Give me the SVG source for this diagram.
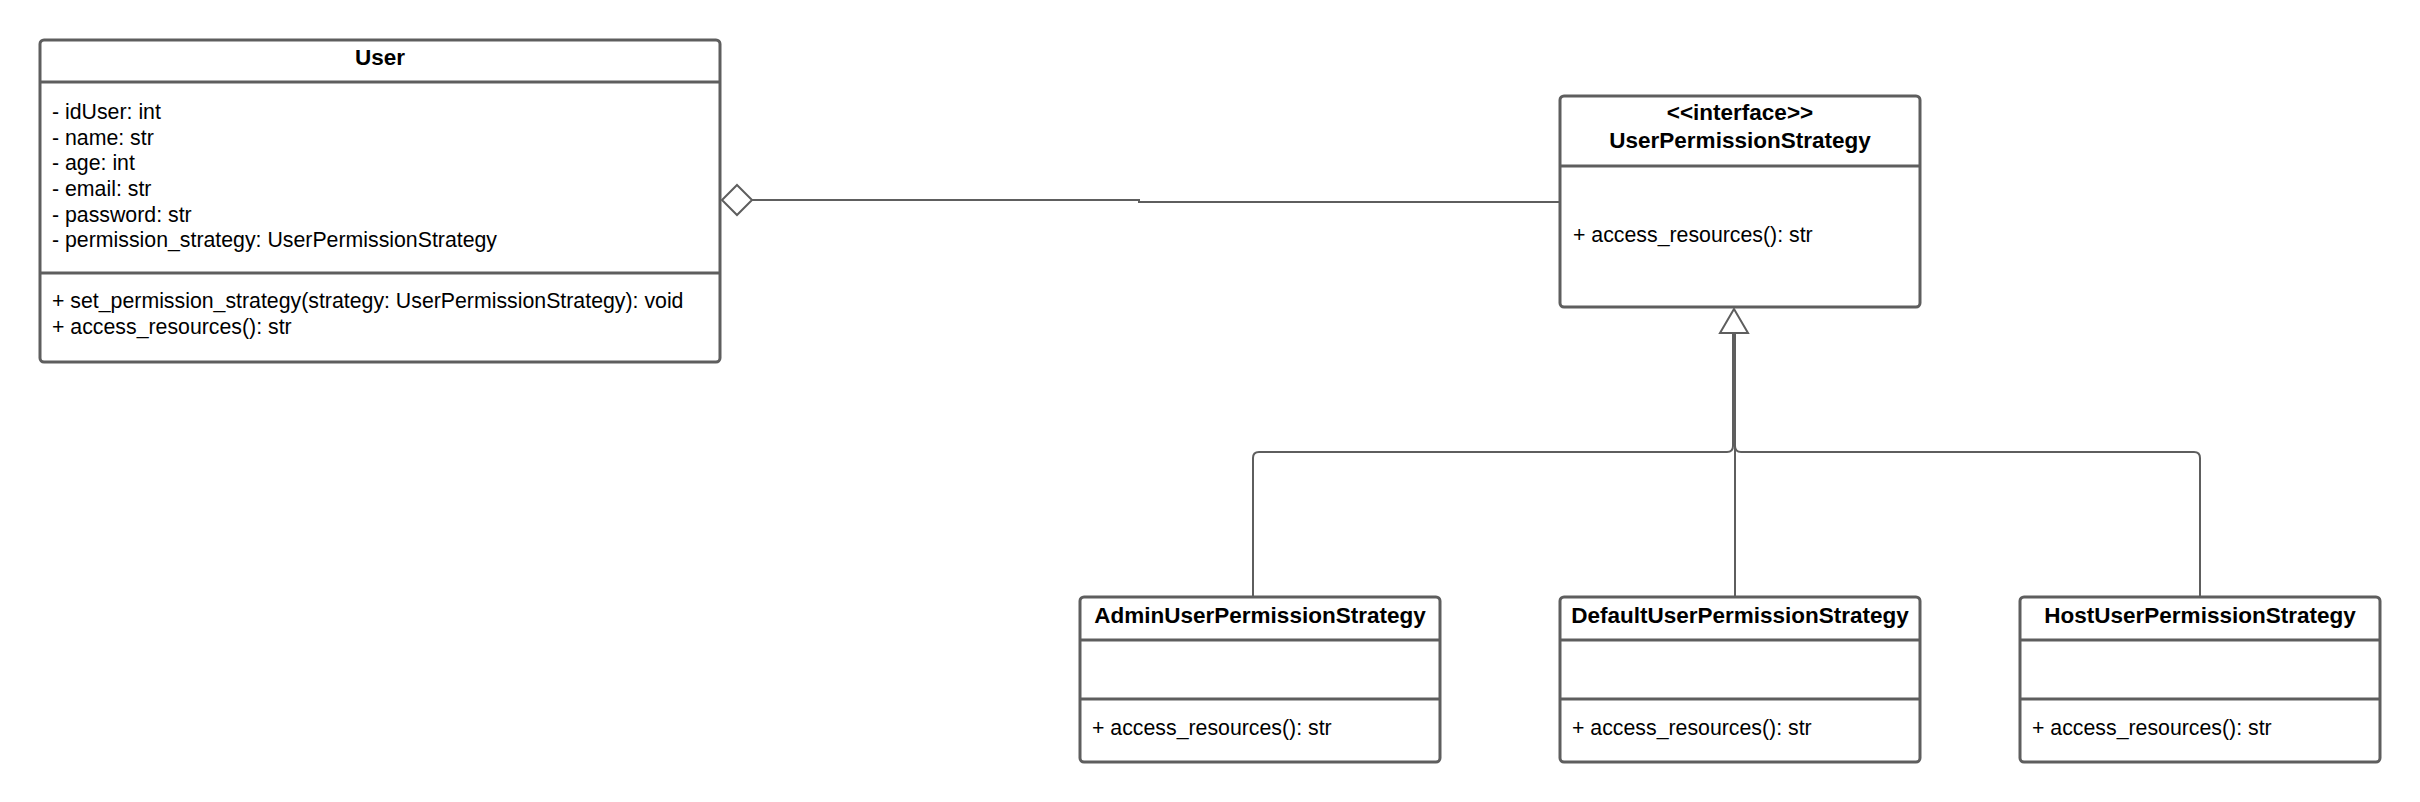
<svg xmlns="http://www.w3.org/2000/svg" width="2420" height="802" viewBox="0 0 2420 802">
<style>
.box{fill:#fff;stroke:#5e5e5e;stroke-width:3}
.div{stroke:#5e5e5e;stroke-width:3;fill:none}
.t{font-family:"Liberation Sans",Arial,sans-serif;font-size:21.3px;fill:#000}
.b{font-family:"Liberation Sans",Arial,sans-serif;font-size:22.5px;font-weight:bold;fill:#000;text-anchor:middle}
.c{stroke:#5e5e5e;stroke-width:2;fill:none}
</style>
<rect width="2420" height="802" fill="#fff"/>
<g id="connectors">
<path class="c" d="M752,200 L1139,200 L1139,202 L1560,202"/>
<path class="c" d="M737,185 L752,200 L737,215 L722,200 Z" fill="#fff"/>
<path class="c" d="M1253,597 L1253,458 Q1253,452 1259,452 L1727,452 Q1733,452 1733,446 L1733,333"/>
<path class="c" d="M2200,597 L2200,458 Q2200,452 2194,452 L1741,452 Q1735,452 1735,446 L1735,333"/>
<path class="c" d="M1735,597 L1735,333"/>
<path class="c" d="M1734,309 L1748,333 L1720,333 Z" fill="#fff"/>
</g>
<g id="User">
<rect class="box" x="40" y="40" width="680" height="322" rx="4"/>
<line class="div" x1="40" y1="82" x2="720" y2="82"/>
<line class="div" x1="40" y1="273" x2="720" y2="273"/>
<text class="b" x="380" y="65">User</text>
<text class="t" x="52" y="119">- idUser: int</text>
<text class="t" x="52" y="145">- name: str</text>
<text class="t" x="52" y="170">- age: int</text>
<text class="t" x="52" y="196">- email: str</text>
<text class="t" x="52" y="222">- password: str</text>
<text class="t" x="52" y="247">- permission_strategy: UserPermissionStrategy</text>
<text class="t" x="52" y="308">+ set_permission_strategy(strategy: UserPermissionStrategy): void</text>
<text class="t" x="52" y="334">+ access_resources(): str</text>
</g>
<g id="UserPermissionStrategy">
<rect class="box" x="1560" y="96" width="360" height="211" rx="4"/>
<line class="div" x1="1560" y1="166" x2="1920" y2="166"/>
<text class="b" x="1740" y="120">&lt;&lt;interface&gt;&gt;</text>
<text class="b" x="1740" y="148">UserPermissionStrategy</text>
<text class="t" x="1573" y="242">+ access_resources(): str</text>
</g>
<g id="AdminUserPermissionStrategy">
<rect class="box" x="1080" y="597" width="360" height="165" rx="4"/>
<line class="div" x1="1080" y1="640" x2="1440" y2="640"/>
<line class="div" x1="1080" y1="699" x2="1440" y2="699"/>
<text class="b" x="1260" y="623">AdminUserPermissionStrategy</text>
<text class="t" x="1092" y="735">+ access_resources(): str</text>
</g>
<g id="DefaultUserPermissionStrategy">
<rect class="box" x="1560" y="597" width="360" height="165" rx="4"/>
<line class="div" x1="1560" y1="640" x2="1920" y2="640"/>
<line class="div" x1="1560" y1="699" x2="1920" y2="699"/>
<text class="b" x="1740" y="623">DefaultUserPermissionStrategy</text>
<text class="t" x="1572" y="735">+ access_resources(): str</text>
</g>
<g id="HostUserPermissionStrategy">
<rect class="box" x="2020" y="597" width="360" height="165" rx="4"/>
<line class="div" x1="2020" y1="640" x2="2380" y2="640"/>
<line class="div" x1="2020" y1="699" x2="2380" y2="699"/>
<text class="b" x="2200" y="623">HostUserPermissionStrategy</text>
<text class="t" x="2032" y="735">+ access_resources(): str</text>
</g>
</svg>
